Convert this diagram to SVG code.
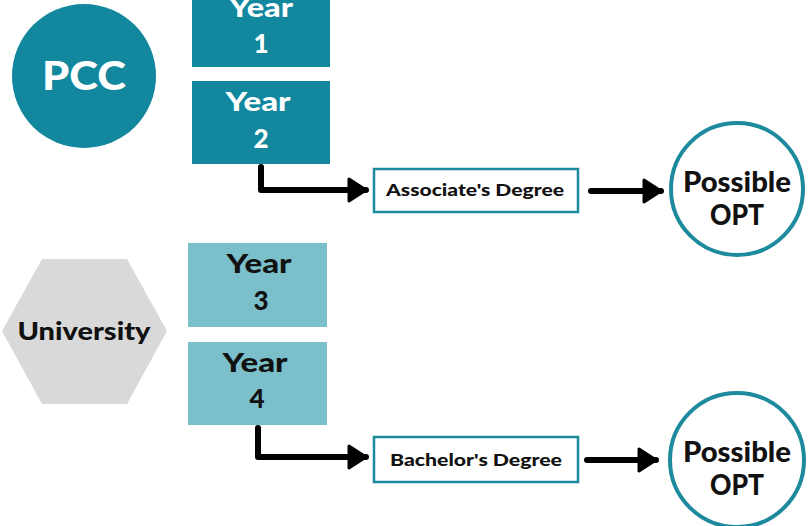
<svg xmlns="http://www.w3.org/2000/svg" width="811" height="526" viewBox="0 0 811 526">
<style>
.t{font-family:Lato,"Open Sans","Liberation Sans",sans-serif;font-weight:900;text-anchor:middle}
.dark{fill:#12879e}
.light{fill:#7abfca}
.w{fill:#ffffff}
.k{fill:#111111}
.deg{fill:#ffffff;stroke:#1e8a9e;stroke-width:2.5}
.opt{fill:#ffffff;stroke:#1e8a9e;stroke-width:4}
.conn{fill:none;stroke:#000;stroke-width:6;stroke-linejoin:round;stroke-linecap:round}
</style>
<defs>
<marker id="ah" markerUnits="userSpaceOnUse" markerWidth="24" markerHeight="28" refX="20" refY="14" orient="auto">
<path d="M3,3 L20,14 L3,25 Z" fill="#000" stroke="#000" stroke-width="3" stroke-linejoin="round"/>
</marker>
</defs>
<rect width="811" height="526" fill="#ffffff"/>
<g id="pcc">
<circle cx="84" cy="76" r="72" class="dark"/>
<text x="84" y="90" class="t w" font-size="40" textLength="84" lengthAdjust="spacingAndGlyphs">PCC</text>
</g>
<g id="year1">
<rect x="192" y="-20" width="138" height="87" class="dark"/>
<text x="261" y="17" class="t w" font-size="26" textLength="64" lengthAdjust="spacingAndGlyphs">Year</text>
<text x="261" y="53" class="t w" font-size="26">1</text>
</g>
<g id="year2">
<rect x="192" y="81" width="138" height="83" class="dark"/>
<text x="258" y="111" class="t w" font-size="26" textLength="65" lengthAdjust="spacingAndGlyphs">Year</text>
<text x="261" y="148" class="t w" font-size="26">2</text>
</g>
<g id="associate">
<rect x="374" y="169" width="204" height="43" class="deg"/>
<text x="475" y="196" class="t k" font-size="17" textLength="178" lengthAdjust="spacingAndGlyphs">Associate's Degree</text>
</g>
<g id="opt1">
<circle cx="737" cy="189" r="66" class="opt"/>
<text x="737" y="192" class="t k" font-size="28" textLength="108" lengthAdjust="spacingAndGlyphs">Possible</text>
<text x="737" y="225" class="t k" font-size="28" textLength="54" lengthAdjust="spacingAndGlyphs">OPT</text>
</g>
<g id="university">
<polygon points="2,331 42,259 127,259 167,331 127,404 42,404" fill="#d9d9d9"/>
<text x="84" y="340" class="t k" font-size="25" textLength="133" lengthAdjust="spacingAndGlyphs">University</text>
</g>
<g id="year3">
<rect x="188" y="243" width="139" height="84" class="light"/>
<text x="259" y="273" class="t k" font-size="26" textLength="65" lengthAdjust="spacingAndGlyphs">Year</text>
<text x="261" y="310" class="t k" font-size="26">3</text>
</g>
<g id="year4">
<rect x="188" y="342" width="139" height="83" class="light"/>
<text x="255" y="372" class="t k" font-size="26" textLength="65" lengthAdjust="spacingAndGlyphs">Year</text>
<text x="257" y="408" class="t k" font-size="26">4</text>
</g>
<g id="bachelor">
<rect x="374" y="437" width="204" height="45" class="deg"/>
<text x="476" y="466" class="t k" font-size="17" textLength="172" lengthAdjust="spacingAndGlyphs">Bachelor's Degree</text>
</g>
<g id="opt2">
<circle cx="737" cy="460" r="67" class="opt"/>
<text x="737" y="462" class="t k" font-size="28" textLength="108" lengthAdjust="spacingAndGlyphs">Possible</text>
<text x="737" y="495" class="t k" font-size="28" textLength="54" lengthAdjust="spacingAndGlyphs">OPT</text>
</g>
<g id="connectors">
<path d="M261,167 V190 H366" class="conn" marker-end="url(#ah)"/>
<path d="M591,191 H661" class="conn" marker-end="url(#ah)"/>
<path d="M258,428 V457 H366" class="conn" marker-end="url(#ah)"/>
<path d="M587,460 H656" class="conn" marker-end="url(#ah)"/>
</g>
</svg>
